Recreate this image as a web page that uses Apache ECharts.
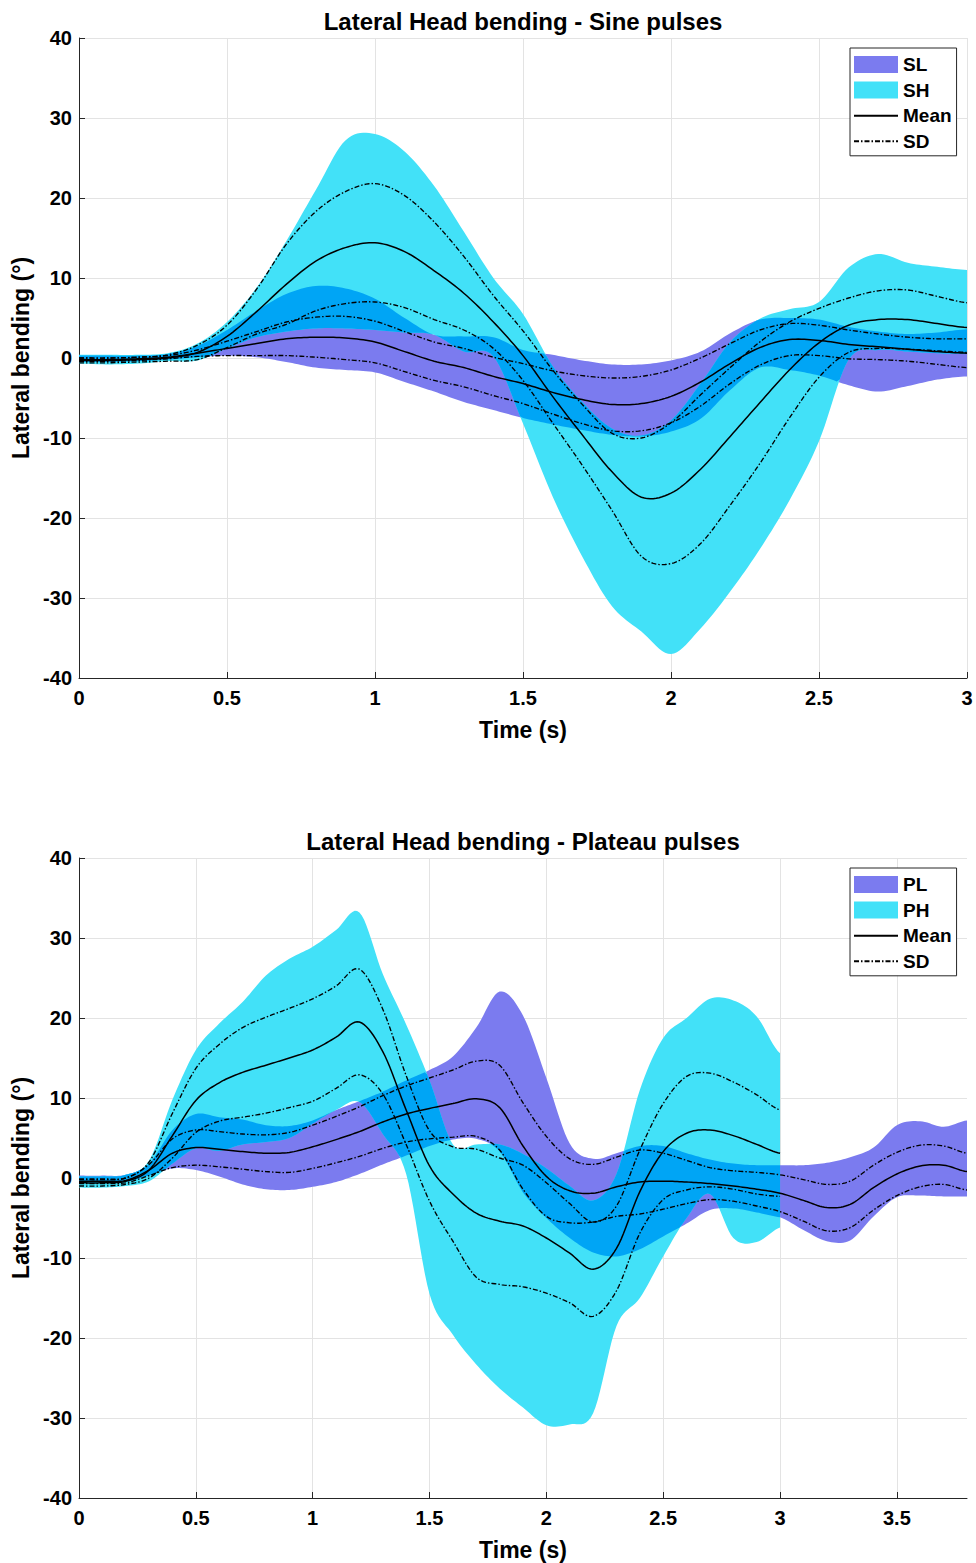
<!DOCTYPE html>
<html><head><meta charset="utf-8">
<script src="https://cdn.jsdelivr.net/npm/echarts@6/dist/echarts.min.js"></script>
<style>html,body{margin:0;padding:0;background:#fff}#c{width:976px;height:1563px}</style>
</head><body><div id="c"></div>
<script>
// ---------- DATA ----------
const tTop = [0,0.1,0.2,0.3,0.4,0.5,0.6,0.7,0.8,0.9,1,1.1,1.2,1.3,1.4,1.5,1.6,1.7,1.8,1.9,2,2.1,2.2,2.3,2.4,2.5,2.6,2.7,2.8,2.9,3];
const tBot = [0,0.1,0.2,0.3,0.4,0.5,0.6,0.7,0.8,0.9,1,1.1,1.2,1.3,1.4,1.5,1.6,1.7,1.8,1.9,2,2.1,2.2,2.3,2.4,2.5,2.6,2.7,2.8,2.9,3,3.1,3.2,3.3,3.4,3.5,3.6,3.7,3.8];

// Sine pulses - SL
const SL_mean = [-0.2,-0.2,-0.1,0.1,0.6,1.2,1.8,2.4,2.6,2.5,2.0,0.8,-0.4,-1.2,-2.3,-3.2,-4.3,-5.2,-5.8,-5.7,-4.8,-3.0,-0.7,1.3,2.3,2.2,1.7,1.4,1.1,0.8,0.6];
const SL_sd   = [0.2,0.2,0.2,0.2,0.4,0.9,1.5,2.1,2.5,2.7,2.6,2.5,2.4,2.4,2.4,2.5,2.7,3.0,3.3,3.4,3.3,3.0,2.5,2.2,2.0,1.9,1.8,1.6,1.5,1.6,1.8];
const SL_hi   = [0.3,0.3,0.3,0.5,1.5,3.5,5.9,8.0,9.0,8.7,7.4,5.0,2.9,2.7,2.6,1.0,0.4,-0.3,-0.8,-0.8,-0.3,0.8,3.1,4.8,5.0,4.8,3.9,3.3,3.0,3.2,3.6];
const SL_lo   = [-0.5,-0.5,-0.4,-0.2,0.1,0.3,0.1,-0.5,-1.2,-1.5,-1.8,-3.0,-4.2,-5.5,-6.5,-7.5,-8.3,-9.0,-9.6,-9.8,-9.2,-7.6,-4.0,-1.2,-1.5,-2.2,-3.4,-4.2,-3.5,-2.7,-2.3];
// Sine pulses - SH
const SH_mean = [-0.3,-0.3,-0.2,0.0,0.7,2.7,5.8,9.2,12.1,13.8,14.4,13.3,10.9,8.1,4.5,0.3,-4.8,-9.6,-14.2,-17.4,-16.9,-13.9,-9.8,-5.6,-1.5,1.9,4.1,4.8,4.8,4.3,3.8];
const SH_sd   = [0.3,0.3,0.3,0.4,0.9,1.4,2.8,5.0,6.2,7.0,7.4,7.0,6.1,4.6,3.3,3.1,3.3,3.8,4.8,7.4,8.8,9.3,8.6,7.6,6.0,4.3,3.4,3.6,3.7,3.4,3.1];
const SH_hi   = [0.4,0.4,0.4,0.6,1.8,4.5,8.8,14.6,21.0,27.2,28.0,25.8,21.5,15.8,10.0,5.5,-1.0,-5.5,-8.8,-9.7,-7.8,-3.2,2.0,4.9,6.1,7.0,11.3,13.0,11.9,11.4,11.0];
const SH_lo   = [-0.7,-0.8,-0.7,-0.4,-0.3,1.2,2.6,3.3,3.7,3.7,3.5,3.2,2.9,0.8,0.2,-8.2,-17.3,-24.8,-31.0,-34.2,-37.0,-33.8,-29.2,-23.9,-17.8,-10.4,-0.2,1.0,0.8,0.6,0.5];

// Plateau pulses - PL
const PL_mean = [-0.4,-0.4,-0.3,1.0,3.1,3.8,3.6,3.3,3.1,3.2,3.9,4.8,5.8,7.0,8.0,8.7,9.3,9.9,8.8,4.0,0.2,-1.6,-1.9,-1.1,-0.5,-0.4,-0.5,-0.7,-1.0,-1.4,-1.9,-2.8,-3.7,-3.3,-1.2,0.5,1.5,1.6,0.8];
const PL_sd   = [0.3,0.3,0.3,0.7,1.8,2.2,2.2,2.2,2.3,2.5,2.7,2.9,3.1,3.3,3.5,3.8,4.2,4.7,5.3,5.4,5.0,4.0,3.6,3.7,4.0,3.5,2.7,2.0,1.9,2.1,2.3,2.6,2.9,2.9,2.8,2.7,2.6,2.4,2.3];
const PL_hi   = [0.3,0.3,0.4,1.8,6.0,8.0,7.6,7.3,6.6,6.5,7.2,8.5,9.6,10.8,12.2,13.5,15.2,18.8,23.3,20.3,12.5,4.3,2.4,3.1,4.0,4.0,3.1,2.3,1.8,1.6,1.6,1.6,1.9,2.6,3.8,6.6,7.1,6.4,7.2];
const PL_lo   = [-0.6,-0.6,-0.5,0.3,1.2,1.0,0.2,-0.8,-1.4,-1.5,-1.1,-0.5,0.5,1.7,2.8,4.0,4.8,4.9,3.3,-1.8,-5.0,-7.5,-9.3,-9.8,-8.9,-7.3,-5.7,-4.0,-3.8,-4.3,-4.9,-6.5,-7.9,-7.8,-4.8,-2.4,-2.2,-2.3,-2.3];
// Plateau pulses - PH (ends at 3 s)
const PH_mean = [-0.6,-0.6,-0.4,1.0,5.3,9.7,11.9,13.2,14.1,15.0,16.0,17.6,19.5,15.8,8.5,1.5,-2.0,-4.4,-5.4,-6.0,-7.5,-9.4,-11.4,-8.8,-1.7,3.3,5.6,6.0,5.3,4.2,3.1];
const PH_sd   = [0.4,0.4,0.4,1.0,2.8,4.0,4.8,5.6,6.0,6.2,6.4,6.4,6.6,5.3,4.3,4.4,5.9,8.0,7.9,7.6,6.9,6.2,5.9,5.3,5.2,6.0,7.1,7.1,6.7,6.2,5.4];
const PH_hi   = [0.2,0.2,0.4,2.2,9.8,16.0,19.3,22.0,25.3,27.4,28.9,31.0,33.2,25.5,19.2,12.2,4.2,4.2,4.2,3.0,1.2,-1.0,-2.8,0.5,11.0,17.5,20.0,22.4,22.2,20.2,15.6];
const PH_lo   = [-1.2,-1.2,-1.0,-0.4,1.8,3.7,3.4,4.2,4.5,5.0,6.8,8.5,9.5,5.5,0.5,-14.5,-19.6,-23.3,-26.3,-28.7,-30.9,-30.8,-29.4,-18.5,-15.0,-9.8,-5.0,-2.0,-7.5,-8.0,-6.2];

const xTicksTop = {min:0, max:3, interval:0.5};
const xTicksBot = {min:0, max:3.8, interval:0.5};
const yTicks = {min:-40, max:40, interval:10};

// ---------- STYLE ----------
const FONT = '"Liberation Sans", Arial, Helvetica, sans-serif';
const C_LOW = '#7B7BEF', C_HIGH = '#42E1F8', C_BOTH = '#00A5F5';
const DASHDOT = [5, 2, 1.5, 2];
const W_MEAN = 1.5, W_SD = 1.35;
const SUB = 10;

// smooth (Catmull-Rom / Hermite) evaluation used only for drawing curve outlines
function dense(v) {
  const n = v.length, out = [];
  for (let i = 0; i < n - 1; i++) {
    const p0 = v[Math.max(i - 1, 0)], p1 = v[i], p2 = v[i + 1], p3 = v[Math.min(i + 2, n - 1)];
    const m1 = (p2 - p0) / 2, m2 = (p3 - p1) / 2;
    for (let k = 0; k < SUB; k++) {
      const s = k / SUB, s2 = s * s, s3 = s2 * s;
      out.push((2*s3 - 3*s2 + 1)*p1 + (s3 - 2*s2 + s)*m1 + (-2*s3 + 3*s2)*p2 + (s3 - s2)*m2);
    }
  }
  out.push(v[n - 1]);
  return out;
}
function denseT(t, n) {
  const out = [];
  for (let i = 0; i < n - 1; i++) for (let k = 0; k < SUB; k++) out.push(t[i] + (t[i+1] - t[i]) * k / SUB);
  out.push(t[n - 1]);
  return out;
}

function bandSeries(name, gi, t, lo, hi, color) {
  return {
    type: 'custom', name, xAxisIndex: gi, yAxisIndex: gi, silent: true, clip: true, z: 1,
    itemStyle: {color}, data: [[t[0], lo[0]]], encode: {x: 0, y: 1},
    renderItem: function (params, api) {
      if (params.dataIndex !== 0) return null;
      const n = lo.length, T = denseT(t, n), L = dense(lo), H = dense(hi), pts = [];
      for (let i = 0; i < T.length; i++) pts.push(api.coord([T[i], H[i]]));
      for (let i = T.length - 1; i >= 0; i--) pts.push(api.coord([T[i], L[i]]));
      return {type: 'polygon', shape: {points: pts}, style: {fill: color}};
    }
  };
}

function overlapSeries(name, gi, t, loA, hiA, loB, hiB, color) {
  return {
    type: 'custom', name, xAxisIndex: gi, yAxisIndex: gi, silent: true, clip: true, z: 1,
    itemStyle: {color}, data: [[t[0], 0]], encode: {x: 0, y: 1},
    renderItem: function (params, api) {
      if (params.dataIndex !== 0) return null;
      const n = Math.min(loA.length, loB.length);
      const T = denseT(t, n);
      const La = dense(loA.slice(0, n)), Ha = dense(hiA.slice(0, n)), Lb = dense(loB.slice(0, n)), Hb = dense(hiB.slice(0, n));
      const segs = []; let cur = null;
      for (let i = 0; i < T.length; i++) {
        const lo = Math.max(La[i], Lb[i]), hi = Math.min(Ha[i], Hb[i]);
        if (hi > lo) {
          if (!cur) {
            cur = [];
            if (i > 0) {
              const plo = Math.max(La[i-1], Lb[i-1]), phi = Math.min(Ha[i-1], Hb[i-1]);
              const d0 = phi - plo, d1 = hi - lo, f = d0 / (d0 - d1);
              const tc = T[i-1] + f * (T[i] - T[i-1]), vc = plo + f * (lo - plo);
              cur.push([tc, vc, vc]);
            }
          }
          cur.push([T[i], lo, hi]);
        } else if (cur) {
          const plo = Math.max(La[i-1], Lb[i-1]), phi = Math.min(Ha[i-1], Hb[i-1]);
          const d0 = phi - plo, d1 = hi - lo, f = d0 / (d0 - d1);
          const tc = T[i-1] + f * (T[i] - T[i-1]), vc = plo + f * (lo - plo);
          cur.push([tc, vc, vc]);
          segs.push(cur); cur = null;
        }
      }
      if (cur) segs.push(cur);
      const children = segs.map(seg => {
        const pts = seg.map(p => api.coord([p[0], p[2]]));
        for (let i = seg.length - 1; i >= 0; i--) pts.push(api.coord([seg[i][0], seg[i][1]]));
        return {type: 'polygon', shape: {points: pts}, style: {fill: color}};
      });
      return {type: 'group', children};
    }
  };
}

// curve (mean / mean±sd) drawn as a smooth polyline through the axes' scales
function curveSeries(name, gi, t, vals, dashed) {
  return {
    type: 'custom', name, xAxisIndex: gi, yAxisIndex: gi, silent: true, clip: true, z: 5,
    data: [[t[0], vals[0]]], encode: {x: 0, y: 1},
    renderItem: function (params, api) {
      if (params.dataIndex !== 0) return null;
      const n = vals.length, T = denseT(t, n), V = dense(vals);
      const pts = T.map((x, i) => api.coord([x, V[i]]));
      return {type: 'polyline', shape: {points: pts},
        style: {stroke: '#000', fill: null, lineWidth: dashed ? W_SD : W_MEAN, lineDash: dashed ? DASHDOT : null}};
    }
  };
}
function meanSd(key, gi, t, mean, sd) {
  const up = mean.map((m, i) => +(m + sd[i]).toFixed(2));
  const dn = mean.map((m, i) => +(m - sd[i]).toFixed(2));
  return [curveSeries(key + ' mean', gi, t, mean, false), curveSeries(key + ' +SD', gi, t, up, true), curveSeries(key + ' -SD', gi, t, dn, true)];
}
// legend-only entries for the line styles
function legendLine(name, gi, dashed) {
  return {
    type: 'line', name, xAxisIndex: gi, yAxisIndex: gi, data: [], symbol: 'circle', symbolSize: 0, showSymbol: false, silent: true,
    lineStyle: {color: '#000', width: dashed ? W_SD : W_MEAN, type: dashed ? DASHDOT : 'solid'},
    itemStyle: {color: 'rgba(0,0,0,0)', borderWidth: 0}
  };
}

function xAxis(gi, ticks, hideMax) {
  return {
    type: 'value', gridIndex: gi, min: ticks.min, max: ticks.max, interval: ticks.interval,
    name: 'Time (s)', nameLocation: 'middle', nameGap: 40,
    nameTextStyle: {fontSize: 23, fontWeight: 'bold', color: '#000', fontFamily: FONT},
    axisLine: {show: true, onZero: false, lineStyle: {color: '#262626', width: 1}},
    axisTick: {show: true, inside: true, length: 6, lineStyle: {color: '#262626'}},
    axisLabel: {fontSize: 20, fontWeight: 'bold', color: '#000', fontFamily: FONT, margin: 10, showMaxLabel: !hideMax},
    splitLine: {show: true, showMaxLine: !hideMax, lineStyle: {color: '#e3e3e3', width: 1}}
  };
}
function yAxis(gi) {
  return {
    type: 'value', gridIndex: gi, min: yTicks.min, max: yTicks.max, interval: yTicks.interval,
    name: 'Lateral bending (°)', nameLocation: 'middle', nameGap: 45,
    nameTextStyle: {fontSize: 23, fontWeight: 'bold', color: '#000', fontFamily: FONT},
    axisLine: {show: true, lineStyle: {color: '#262626', width: 1}},
    axisTick: {show: true, inside: true, length: 6, lineStyle: {color: '#262626'}},
    axisLabel: {fontSize: 20, fontWeight: 'bold', color: '#000', fontFamily: FONT, margin: 7},
    splitLine: {show: true, lineStyle: {color: '#e3e3e3', width: 1}}
  };
}
function legend(top, names) {
  return {
    orient: 'vertical', left: 850, top, selectedMode: false,
    backgroundColor: '#fff', borderColor: '#262626', borderWidth: 1, borderRadius: 0,
    padding: [7, 5, 5, 3], itemWidth: 44, itemHeight: 17, itemGap: 6.6,
    textStyle: {fontSize: 19, fontWeight: 'bold', color: '#000', fontFamily: FONT},
    data: [{name: names[0], icon: 'rect'}, {name: names[1], icon: 'rect'}, 'Mean', 'SD']
  };
}

const chart = echarts.init(document.getElementById('c'), null, {renderer: 'svg', width: 976, height: 1563});
chart.setOption({
  animation: false,
  backgroundColor: '#fff',
  grid: [
    {left: 79, top: 38, width: 888, height: 640},
    {left: 79, top: 858, width: 888, height: 640}
  ],
  xAxis: [xAxis(0, xTicksTop, false), xAxis(1, xTicksBot, true)],
  yAxis: [yAxis(0), yAxis(1)],
  legend: [legend(48, ['SL', 'SH']), legend(868, ['PL', 'PH'])],
  graphic: [
    {type: 'text', x: 523, y: 21, silent: true, style: {text: 'Lateral Head bending - Sine pulses', fill: '#000', fontSize: 24, fontWeight: 'bold', fontFamily: FONT, align: 'center', verticalAlign: 'middle'}},
    {type: 'text', x: 523, y: 841, silent: true, style: {text: 'Lateral Head bending - Plateau pulses', fill: '#000', fontSize: 24, fontWeight: 'bold', fontFamily: FONT, align: 'center', verticalAlign: 'middle'}}
  ],
  series: [
    bandSeries('SL', 0, tTop, SL_lo, SL_hi, C_LOW),
    bandSeries('SH', 0, tTop, SH_lo, SH_hi, C_HIGH),
    overlapSeries('SL+SH', 0, tTop, SL_lo, SL_hi, SH_lo, SH_hi, C_BOTH),
    ...meanSd('SL', 0, tTop, SL_mean, SL_sd),
    ...meanSd('SH', 0, tTop, SH_mean, SH_sd),
    legendLine('Mean', 0, false),
    legendLine('SD', 0, true),
    bandSeries('PL', 1, tBot, PL_lo, PL_hi, C_LOW),
    bandSeries('PH', 1, tBot, PH_lo, PH_hi, C_HIGH),
    overlapSeries('PL+PH', 1, tBot, PL_lo, PL_hi, PH_lo, PH_hi, C_BOTH),
    ...meanSd('PL', 1, tBot, PL_mean, PL_sd),
    ...meanSd('PH', 1, tBot, PH_mean, PH_sd)
  ]
});
</script>
</body></html>
